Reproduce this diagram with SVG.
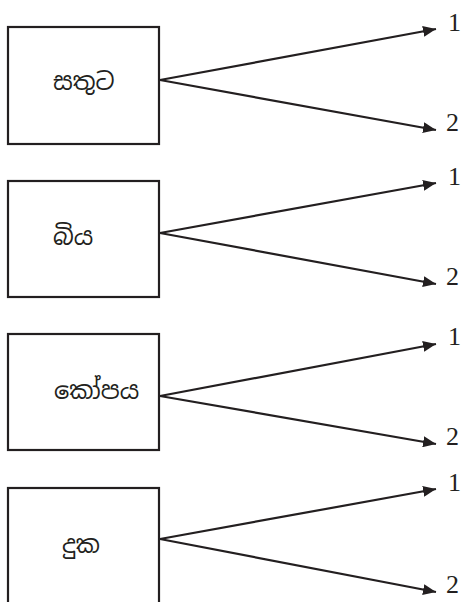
<svg xmlns="http://www.w3.org/2000/svg" width="464" height="602" viewBox="0 0 464 602">
<defs>
<marker id="ah" viewBox="0 0 13 11" refX="13" refY="5.5" markerWidth="13" markerHeight="11" markerUnits="userSpaceOnUse" orient="auto">
<path d="M0,0 L13,5.5 L0,11 Z" fill="#231f20"/>
</marker>
<style>
.box{fill:#fff;stroke:#231f20;stroke-width:2.2}
.lbl{font-family:"Noto Sans Sinhala","Noto Serif Sinhala","Iskoola Pota","Lohit Sinhala","Noto Sans",sans-serif;font-size:24px;fill:#231f20}
.num{font-family:"Liberation Serif","Times New Roman",serif;font-size:26px;fill:#231f20}
.ln{stroke:#231f20;stroke-width:2.2;fill:none;marker-end:url(#ah)}
</style>
</defs>
<rect width="464" height="602" fill="#fff"/>
<g id="node-satuta"><rect class="box" x="8" y="27" width="151" height="117"/><text class="lbl" x="53" y="90">සතුට</text></g>
<g id="node-biya"><rect class="box" x="8" y="181" width="151" height="116"/><text class="lbl" x="53" y="245">බිය</text></g>
<g id="node-kopaya"><rect class="box" x="8" y="334" width="151" height="116"/><text class="lbl" x="54" y="399">කෝපය</text></g>
<g id="node-duka"><rect class="box" x="8" y="488" width="151" height="130"/><text class="lbl" x="62" y="553">දුක</text></g>
<g id="connectors">
<line class="ln" x1="160" y1="80" x2="436" y2="29"/>
<line class="ln" x1="160" y1="80" x2="436" y2="130"/>
<line class="ln" x1="160" y1="233" x2="436" y2="183"/>
<line class="ln" x1="160" y1="233" x2="436" y2="284"/>
<line class="ln" x1="160" y1="396" x2="436" y2="344"/>
<line class="ln" x1="160" y1="396" x2="436" y2="444"/>
<line class="ln" x1="160" y1="539" x2="436" y2="489"/>
<line class="ln" x1="160" y1="539" x2="436" y2="592"/>
</g>
<g id="labels">
<text class="num" x="448" y="31">1</text>
<text class="num" x="446" y="131">2</text>
<text class="num" x="448" y="185">1</text>
<text class="num" x="446" y="285">2</text>
<text class="num" x="448" y="345">1</text>
<text class="num" x="446" y="445">2</text>
<text class="num" x="448" y="491">1</text>
<text class="num" x="446" y="593">2</text>
</g>
</svg>
